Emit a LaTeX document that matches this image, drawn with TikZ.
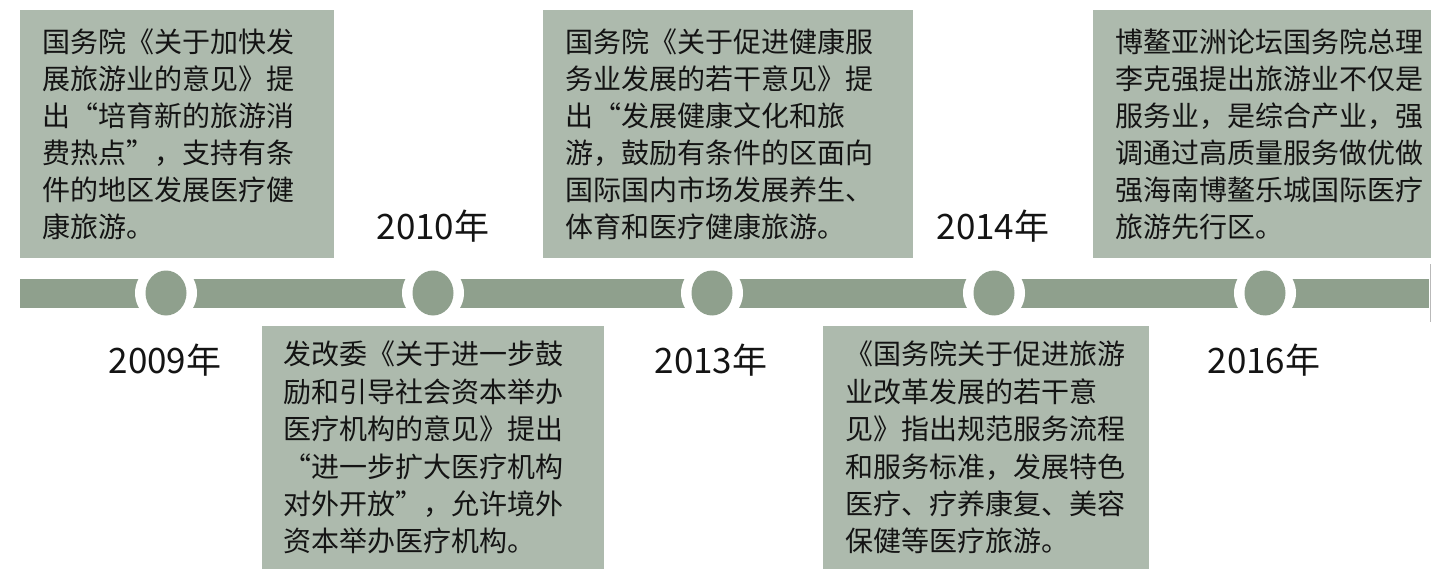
\documentclass[tikz,border=0pt]{standalone}
\usepackage{fontspec}
\setmainfont{Noto Sans CJK SC}
\definecolor{boxfill}{HTML}{ADBAAD}
\definecolor{barfill}{HTML}{8FA08D}
\definecolor{txtcol}{HTML}{141414}
\begin{document}
\begin{tikzpicture}[x=1pt,y=-1pt,
  box/.style={fill=boxfill, draw=none, inner sep=0pt, anchor=north west},
  txt/.style={anchor=west, align=left, inner sep=0pt, text=txtcol, font=\fontsize{28}{37}\selectfont},
  txtb/.style={txt, font=\fontsize{28}{37.4}\selectfont},
  yearlbl/.style={inner sep=0pt, text=txtcol, font=\fontsize{35}{40}\selectfont}]
\useasboundingbox (0,0) rectangle (1431,569);
% timeline bar
\fill[barfill] (20,279) rectangle (1429,308);
\draw[gray!55, line width=1pt] (1430,264) -- (1430,322);
% milestones
\foreach \cx/\nm in {166/c1,433/c2,712/c3,994/c4,1265/c5}{
  \fill[white] (\cx,293) ellipse [x radius=31pt, y radius=30pt];
  \fill[barfill] (\cx,293) ellipse [x radius=20.5pt, y radius=22.5pt];
  \coordinate (\nm) at (\cx,293);
}
% boxes
\node[box, minimum width=314pt, minimum height=248pt] (b1) at (20,10) {};
\node[box, minimum width=370pt, minimum height=248pt] (b3) at (543,10) {};
\node[box, minimum width=338pt, minimum height=248pt] (b5) at (1093,10) {};
\node[box, minimum width=342pt, minimum height=243pt] (b2) at (262,326) {};
\node[box, minimum width=326pt, minimum height=243pt] (b4) at (823,326) {};
% texts
\node[txt] (t1) at ([xshift=22pt]b1.west) {国务院《关于加快发\\展旅游业的意见》提\\出“培育新的旅游消\\费热点”，支持有条\\件的地区发展医疗健\\康旅游。};
\node[txtb] (t2) at ([xshift=21pt]b2.west) {发改委《关于进一步鼓\\励和引导社会资本举办\\医疗机构的意见》提出\\“进一步扩大医疗机构\\对外开放”，允许境外\\资本举办医疗机构。};
\node[txt] (t3) at ([xshift=22pt]b3.west) {国务院《关于促进健康服\\务业发展的若干意见》提\\出“发展健康文化和旅\\游，鼓励有条件的区面向\\国际国内市场发展养生、\\体育和医疗健康旅游。};
\node[txtb] (t4) at ([xshift=22pt]b4.west) {《国务院关于促进旅游\\业改革发展的若干意\\见》指出规范服务流程\\和服务标准，发展特色\\医疗、疗养康复、美容\\保健等医疗旅游。};
\node[txt] (t5) at ([xshift=22pt]b5.west) {博鳌亚洲论坛国务院总理\\李克强提出旅游业不仅是\\服务业，是综合产业，强\\调通过高质量服务做优做\\强海南博鳌乐城国际医疗\\旅游先行区。};
% years
\node[yearlbl] (y2009) at (165,360) {2009年};
\node[yearlbl] (y2010) at (433,226) {2010年};
\node[yearlbl] (y2013) at (711,360) {2013年};
\node[yearlbl] (y2014) at (993,226) {2014年};
\node[yearlbl] (y2016) at (1264,360) {2016年};
\end{tikzpicture}
\end{document}
